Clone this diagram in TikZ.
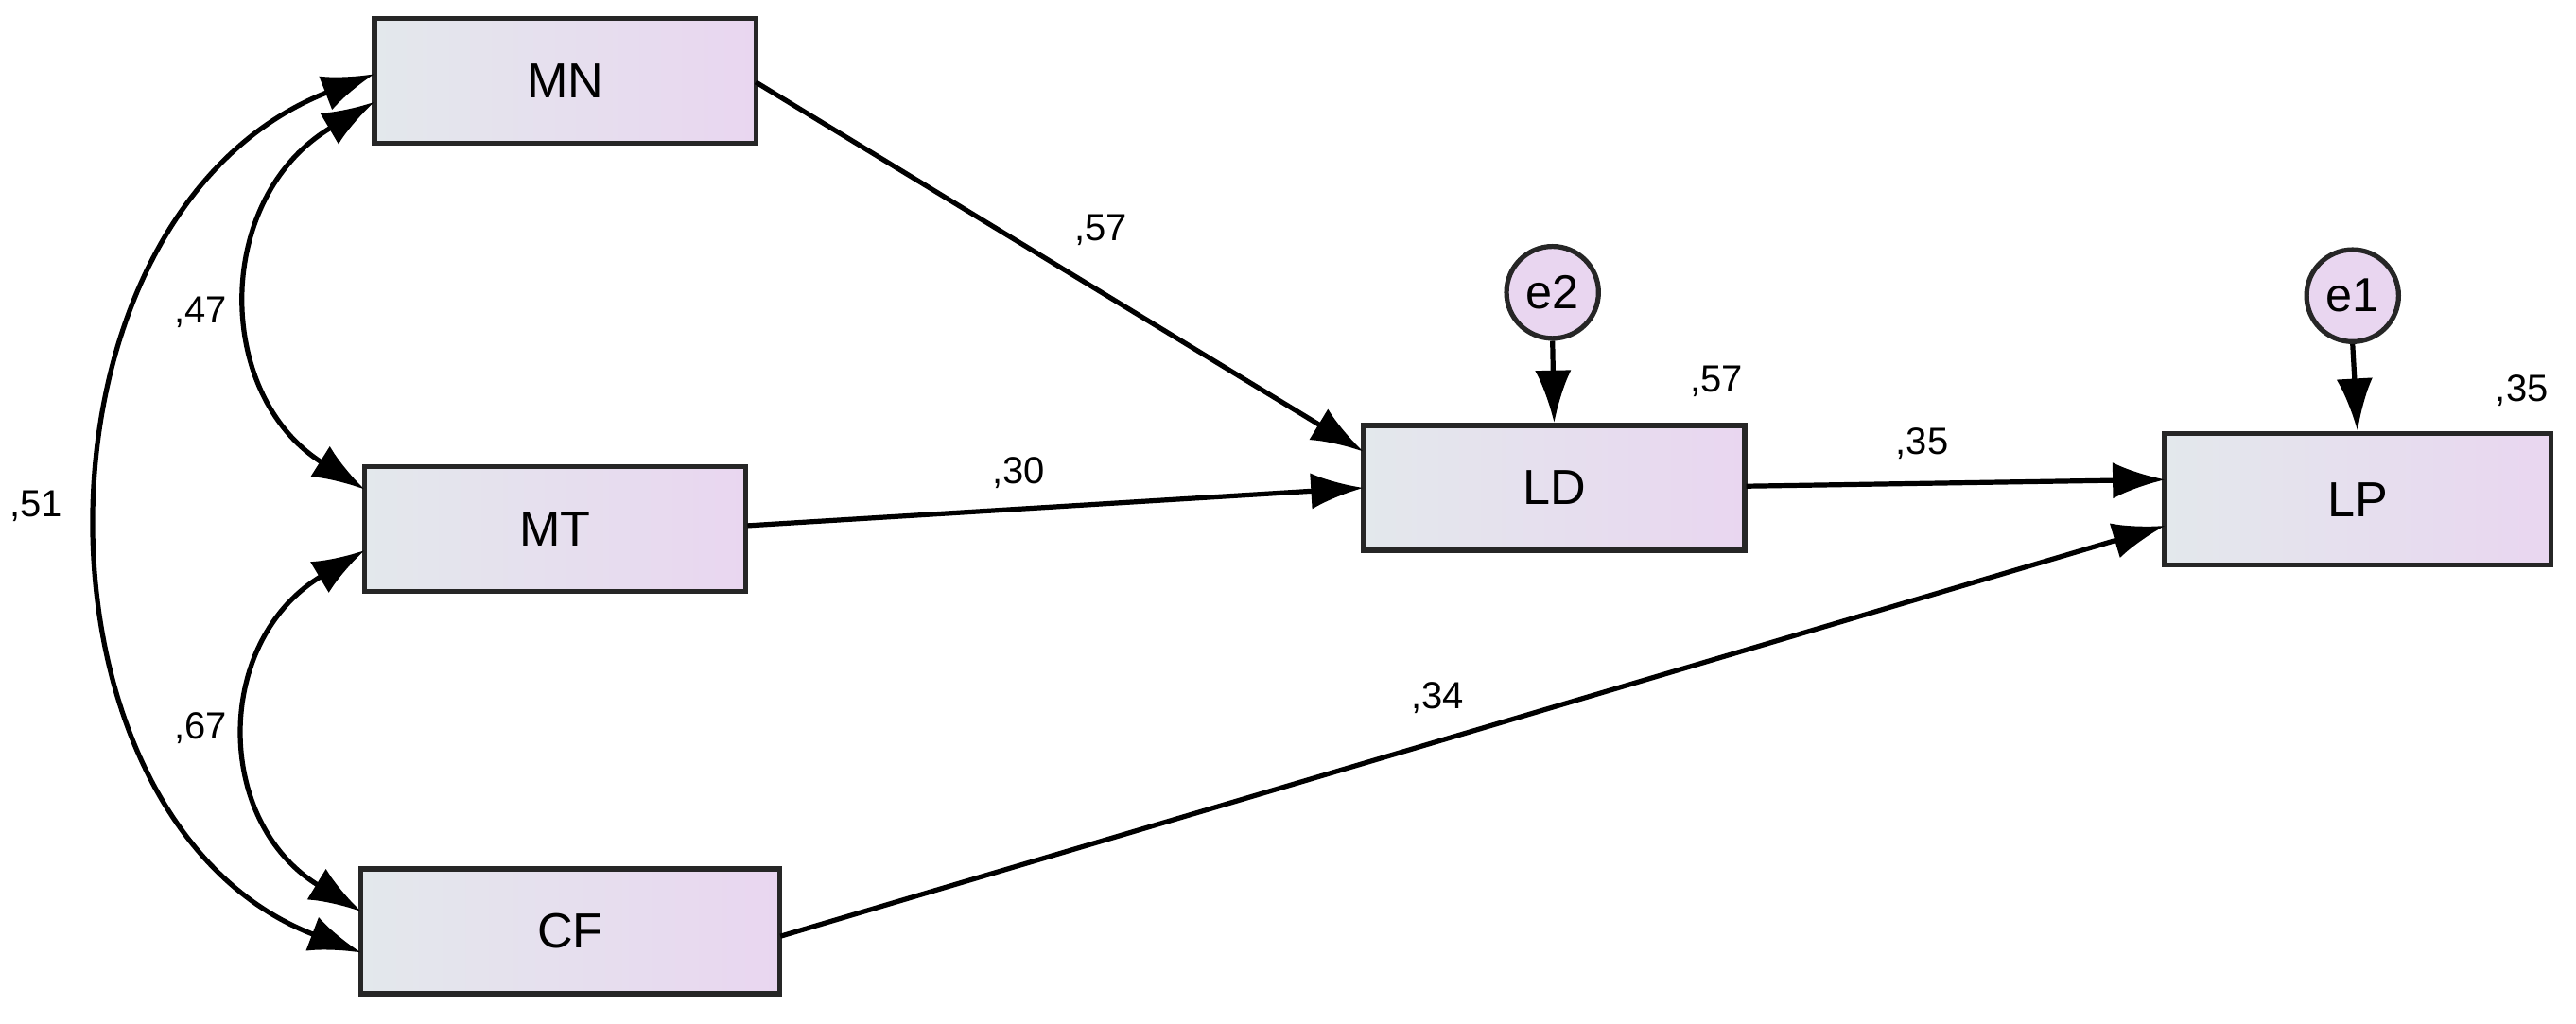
\documentclass[tikz,border=0pt]{standalone}
\usepackage{fontspec}
\setmainfont{Liberation Sans}
\usetikzlibrary{arrows.meta}
\definecolor{lft}{HTML}{E3E8EC}
\definecolor{rgt}{HTML}{E9D6F0}
\begin{document}
\begin{tikzpicture}[x=1pt,y=-1pt,
  var/.style={draw=black!85,line width=3pt,left color=lft,right color=rgt,minimum width=232pt,minimum height=76pt,inner sep=0pt,font=\fontsize{30}{32}\selectfont},
  err/.style={circle,draw=black!85,line width=3pt,fill=rgt,minimum size=56pt,inner sep=0pt,font=\fontsize{29}{30}\selectfont},
  arr/.style={line width=3pt,-{Latex[length=32pt,width=22pt]}},
  darr/.style={line width=3pt,{Latex[length=32pt,width=22pt]}-{Latex[length=32pt,width=22pt]}},
  lab/.style={font=\fontsize{23}{24}\selectfont}]
\useasboundingbox (0,0) rectangle (1568,623);
\node[var] (MN) at (344,49) {MN};
\node[var] (MT) at (338,322) {MT};
\node[var,minimum width=255pt] (CF) at (347,567) {CF};
\node[var] (LD) at (946,297) {LD};
\node[var,minimum width=235pt,minimum height=80pt] (LP) at (1435,304) {LP};
\node[err] (e2) at (945,178) {e2};
\node[err] (e1) at (1432,180) {e1};
\coordinate (mn1) at (228,45);
\coordinate (mn2) at (228,62);
\coordinate (mt1) at (222,298);
\coordinate (mt2) at (222,335);
\coordinate (cf1) at (220,555);
\coordinate (cf2) at (220,580);
\coordinate (ld1) at (830,275);
\coordinate (ld2) at (830,297);
\coordinate (lp1) at (1318,292);
\coordinate (lp2) at (1318,320);
\coordinate (mnr) at (460,50);
\coordinate (mtr) at (455,320);
\coordinate (cfr) at (475,570);
\coordinate (ldr) at (1063,296);
\draw[arr] (mnr) -- (ld1);
\draw[arr] (mtr) -- (ld2);
\draw[arr] (cfr) -- (lp2);
\draw[arr] (ldr) -- (lp1);
\draw[arr] (e2.south) -- (LD.north);
\draw[arr] (e1.south) -- (LP.north);
\draw[darr] (mn2) .. controls (130,120) and (130,240) .. (mt1);
\draw[darr] (mt2) .. controls (130,390) and (130,500) .. (cf1);
\draw[darr] (mn1) .. controls (10,130) and (10,500) .. (cf2);
\node[lab] at (670,140) {,57};
\node[lab] at (620,288) {,30};
\node[lab] at (1170,270) {,35};
\node[lab] at (875,425) {,34};
\node[lab] at (1045,232) {,57};
\node[lab] at (1535,238) {,35};
\node[lab] at (122,190) {,47};
\node[lab] at (122,443) {,67};
\node[lab] at (22,308) {,51};
\end{tikzpicture}
\end{document}
